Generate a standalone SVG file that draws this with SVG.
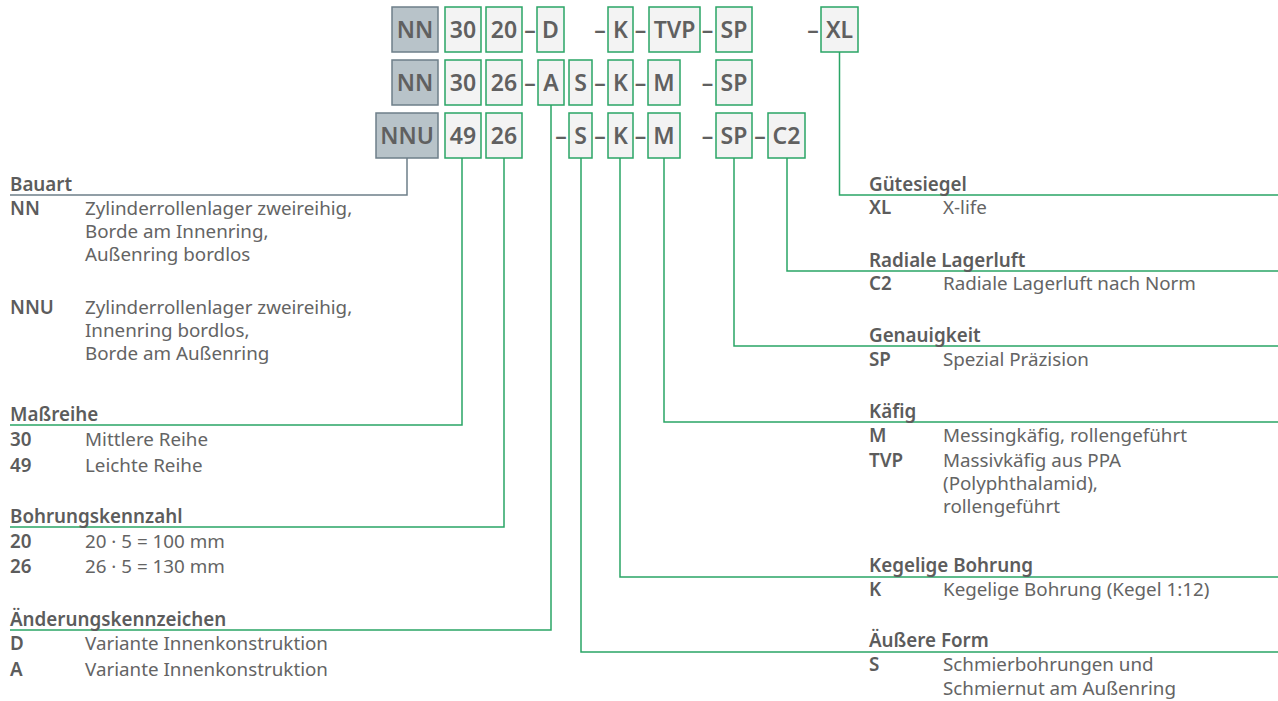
<svg xmlns="http://www.w3.org/2000/svg" width="1278" height="701" viewBox="0 0 1278 701">
<style>
.bg{fill:#b8c3c9;stroke:#6e7f89;stroke-width:1.5}
.bx{fill:#f3f3f3;stroke:#2aa566;stroke-width:1.5}
.bt{font-family:"Noto Sans","Open Sans",sans-serif;font-size:23px;font-weight:600;fill:#606060;text-anchor:middle}
.ln{fill:none;stroke:#2aa566;stroke-width:1.5}
.lg{fill:none;stroke:#6e7f89;stroke-width:1.5}
.h{font-family:"Noto Sans","Open Sans",sans-serif;font-size:18.8px;font-weight:600;fill:#5c5c5c}
.c{font-family:"Noto Sans","Open Sans",sans-serif;font-size:18.8px;font-weight:600;fill:#5c5c5c}
.d{font-family:"Noto Sans","Open Sans",sans-serif;font-size:18.8px;fill:#646464}
</style>
<g id="connectors">
<polyline class="lg" points="407,158 407,195 10,195"/>
<polyline class="ln" points="462,158 462,425 10,425"/>
<polyline class="ln" points="504,158 504,527 10,527"/>
<polyline class="ln" points="551,105 551,630 10,630"/>
<polyline class="ln" points="581,158 581,652 1278,652"/>
<polyline class="ln" points="620,158 620,577 1278,577"/>
<polyline class="ln" points="664,158 664,422 1278,422"/>
<polyline class="ln" points="734,158 734,346 1278,346"/>
<polyline class="ln" points="787,158 787,271 1278,271"/>
<polyline class="ln" points="839.5,52 839.5,195 1278,195"/>
</g>
<g id="row1">
<g id="r1-NN"><rect class="bg" x="392" y="7" width="46" height="45"/><text class="bt" x="415" y="37.5">NN</text></g>
<g id="r1-30"><rect class="bx" x="445" y="7" width="36" height="45"/><text class="bt" x="463" y="37.5">30</text></g>
<g id="r1-20"><rect class="bx" x="486" y="7" width="36" height="45"/><text class="bt" x="504" y="37.5">20</text></g>
<text class="bt" x="530" y="37.5">–</text>
<g id="r1-D"><rect class="bx" x="537" y="7" width="27" height="45"/><text class="bt" x="550.5" y="37.5">D</text></g>
<text class="bt" x="600" y="37.5">–</text>
<g id="r1-K"><rect class="bx" x="608" y="7" width="25" height="45"/><text class="bt" x="620.5" y="37.5">K</text></g>
<text class="bt" x="640.5" y="37.5">–</text>
<g id="r1-TVP"><rect class="bx" x="649" y="7" width="51" height="45"/><text class="bt" x="674.5" y="37.5">TVP</text></g>
<text class="bt" x="707.5" y="37.5">–</text>
<g id="r1-SP"><rect class="bx" x="716" y="7" width="36" height="45"/><text class="bt" x="734" y="37.5">SP</text></g>
<text class="bt" x="813" y="37.5">–</text>
<g id="r1-XL"><rect class="bx" x="821" y="7" width="37" height="45"/><text class="bt" x="839.5" y="37.5">XL</text></g>
</g>
<g id="row2">
<g id="r2-NN"><rect class="bg" x="392" y="60" width="46" height="45"/><text class="bt" x="415" y="90.5">NN</text></g>
<g id="r2-30"><rect class="bx" x="445" y="60" width="36" height="45"/><text class="bt" x="463" y="90.5">30</text></g>
<g id="r2-26"><rect class="bx" x="486" y="60" width="36" height="45"/><text class="bt" x="504" y="90.5">26</text></g>
<text class="bt" x="530" y="90.5">–</text>
<g id="r2-A"><rect class="bx" x="538" y="60" width="26" height="45"/><text class="bt" x="551" y="90.5">A</text></g>
<g id="r2-S"><rect class="bx" x="569" y="60" width="23" height="45"/><text class="bt" x="580.5" y="90.5">S</text></g>
<text class="bt" x="600" y="90.5">–</text>
<g id="r2-K"><rect class="bx" x="608" y="60" width="25" height="45"/><text class="bt" x="620.5" y="90.5">K</text></g>
<text class="bt" x="640.5" y="90.5">–</text>
<g id="r2-M"><rect class="bx" x="648" y="60" width="32" height="45"/><text class="bt" x="664" y="90.5">M</text></g>
<text class="bt" x="707.5" y="90.5">–</text>
<g id="r2-SP"><rect class="bx" x="716" y="60" width="36" height="45"/><text class="bt" x="734" y="90.5">SP</text></g>
</g>
<g id="row3">
<g id="r3-NNU"><rect class="bg" x="376" y="113" width="62" height="45"/><text class="bt" x="407" y="143.5">NNU</text></g>
<g id="r3-49"><rect class="bx" x="445" y="113" width="36" height="45"/><text class="bt" x="463" y="143.5">49</text></g>
<g id="r3-26"><rect class="bx" x="486" y="113" width="36" height="45"/><text class="bt" x="504" y="143.5">26</text></g>
<text class="bt" x="561" y="143.5">–</text>
<g id="r3-S"><rect class="bx" x="569" y="113" width="23" height="45"/><text class="bt" x="580.5" y="143.5">S</text></g>
<text class="bt" x="600" y="143.5">–</text>
<g id="r3-K"><rect class="bx" x="608" y="113" width="25" height="45"/><text class="bt" x="620.5" y="143.5">K</text></g>
<text class="bt" x="640.5" y="143.5">–</text>
<g id="r3-M"><rect class="bx" x="648" y="113" width="32" height="45"/><text class="bt" x="664" y="143.5">M</text></g>
<text class="bt" x="707.5" y="143.5">–</text>
<g id="r3-SP"><rect class="bx" x="716" y="113" width="36" height="45"/><text class="bt" x="734" y="143.5">SP</text></g>
<text class="bt" x="760" y="143.5">–</text>
<g id="r3-C2"><rect class="bx" x="768" y="113" width="37" height="45"/><text class="bt" x="786.5" y="143.5">C2</text></g>
</g>
<g id="legend-bauart">
<text class="h" x="10" y="191">Bauart</text>
<text class="c" x="10" y="215">NN</text>
<text class="d" x="85" y="215">Zylinderrollenlager zweireihig,<tspan x="85" dy="23">Borde am Innenring,</tspan><tspan x="85" dy="23">Außenring bordlos</tspan></text>
<text class="c" x="10" y="314">NNU</text>
<text class="d" x="85" y="314">Zylinderrollenlager zweireihig,<tspan x="85" dy="23">Innenring bordlos,</tspan><tspan x="85" dy="23">Borde am Außenring</tspan></text>
</g>
<g id="legend-massreihe">
<text class="h" x="10" y="421">Maßreihe</text>
<text class="c" x="10" y="446">30</text><text class="d" x="85" y="446">Mittlere Reihe</text>
<text class="c" x="10" y="472">49</text><text class="d" x="85" y="472">Leichte Reihe</text>
</g>
<g id="legend-bohrung">
<text class="h" x="10" y="523">Bohrungskennzahl</text>
<text class="c" x="10" y="548">20</text><text class="d" x="85" y="548">20 · 5 = 100 mm</text>
<text class="c" x="10" y="573">26</text><text class="d" x="85" y="573">26 · 5 = 130 mm</text>
</g>
<g id="legend-aenderung">
<text class="h" x="10" y="626">Änderungskennzeichen</text>
<text class="c" x="10" y="650">D</text><text class="d" x="85" y="650">Variante Innenkonstruktion</text>
<text class="c" x="10" y="676">A</text><text class="d" x="85" y="676">Variante Innenkonstruktion</text>
</g>
<g id="legend-guetesiegel">
<text class="h" x="869" y="191">Gütesiegel</text>
<text class="c" x="869" y="214">XL</text><text class="d" x="943" y="214">X-life</text>
</g>
<g id="legend-lagerluft">
<text class="h" x="869" y="267">Radiale Lagerluft</text>
<text class="c" x="869" y="290">C2</text><text class="d" x="943" y="290">Radiale Lagerluft nach Norm</text>
</g>
<g id="legend-genauigkeit">
<text class="h" x="869" y="342">Genauigkeit</text>
<text class="c" x="869" y="366">SP</text><text class="d" x="943" y="366">Spezial Präzision</text>
</g>
<g id="legend-kaefig">
<text class="h" x="869" y="418">Käfig</text>
<text class="c" x="869" y="442">M</text><text class="d" x="943" y="442">Messingkäfig, rollengeführt</text>
<text class="c" x="869" y="467">TVP</text>
<text class="d" x="943" y="467">Massivkäfig aus PPA<tspan x="943" dy="23">(Polyphthalamid),</tspan><tspan x="943" dy="23">rollengeführt</tspan></text>
</g>
<g id="legend-kegel">
<text class="h" x="869" y="572">Kegelige Bohrung</text>
<text class="c" x="869" y="596">K</text><text class="d" x="943" y="596">Kegelige Bohrung (Kegel 1:12)</text>
</g>
<g id="legend-form">
<text class="h" x="869" y="647">Äußere Form</text>
<text class="c" x="869" y="671">S</text>
<text class="d" x="943" y="671">Schmierbohrungen und<tspan x="943" dy="24">Schmiernut am Außenring</tspan></text>
</g>
</svg>
